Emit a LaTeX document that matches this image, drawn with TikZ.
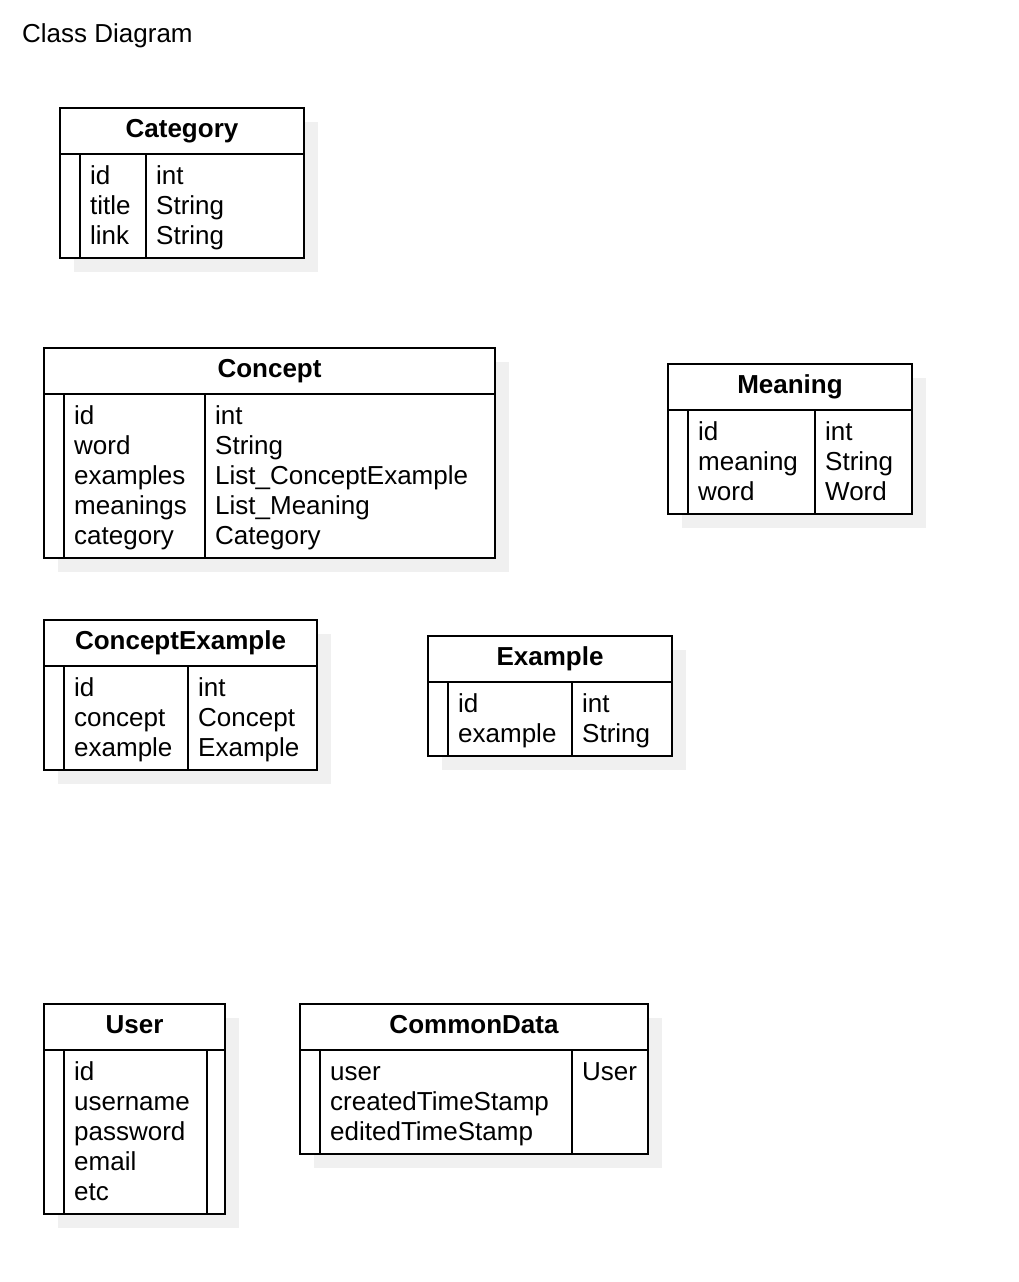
\documentclass[tikz,border=0pt]{standalone}
\usepackage{fontspec}
\setmainfont{Liberation Sans}
\definecolor{shadowcol}{RGB}{240,240,240}
\tikzset{
  txt/.style={inner sep=0pt, anchor=base west, font=\fontsize{26}{30}\selectfont},
  ttl/.style={inner sep=0pt, anchor=base, font=\fontsize{26}{30}\selectfont\bfseries},
  frame/.style={line width=1.8pt, draw=black},
}
% #1 id, #2 x1, #3 y1, #4 x2, #5 y2, #6 stripe x, #7 divider x, #8 title
\newcommand\umlbox[8]{%
  \fill[shadowcol] (#2+14,#3+14) rectangle (#4+14,#5+14);
  \draw[frame, fill=white] (#2,#3) rectangle (#4,#5);
  \draw[frame] (#2,#3+46) -- (#4,#3+46);
  \draw[frame] (#6,#3+46) -- (#6,#5);
  \draw[frame] (#7,#3+46) -- (#7,#5);
  \node[ttl] (#1-title) at ({(#2+#4)/2},#3+29) {#8};
}
% #1 id prefix, #2 x, #3 first baseline y, #4 list
\newcommand\umlrows[4]{%
  \foreach \t [count=\i from 0] in {#4} {
    \node[txt] (#1\i) at (#2,{#3-1+30*\i}) {\t};
  }
}
\begin{document}
\begin{tikzpicture}[x=1pt,y=-1pt]
\useasboundingbox (0,0) rectangle (1018,1282);

\node[txt] (heading) at (22,42) {Class Diagram};

% Category
\umlbox{cat}{60}{108}{304}{258}{80}{146}{Category}
\umlrows{cat-n}{90}{185}{id,title,link}
\umlrows{cat-t}{156}{185}{int,String,String}

% Concept
\umlbox{con}{44}{348}{495}{558}{64}{205}{Concept}
\umlrows{con-n}{74}{425}{id,word,examples,meanings,category}
\umlrows{con-t}{215}{425}{int,String,List\_ConceptExample,List\_Meaning,Category}

% Meaning
\umlbox{mea}{668}{364}{912}{514}{688}{815}{Meaning}
\umlrows{mea-n}{698}{441}{id,meaning,word}
\umlrows{mea-t}{825}{441}{int,String,Word}

% ConceptExample
\umlbox{cex}{44}{620}{317}{770}{64}{188}{ConceptExample}
\umlrows{cex-n}{74}{697}{id,concept,example}
\umlrows{cex-t}{198}{697}{int,Concept,Example}

% Example
\umlbox{exa}{428}{636}{672}{756}{448}{572}{Example}
\umlrows{exa-n}{458}{713}{id,example}
\umlrows{exa-t}{582}{713}{int,String}

% User
\umlbox{usr}{44}{1004}{225}{1214}{64}{207}{User}
\umlrows{usr-n}{74}{1081}{id,username,password,email,etc}

% CommonData
\umlbox{cmd}{300}{1004}{648}{1154}{320}{572}{CommonData}
\umlrows{cmd-n}{330}{1081}{user,createdTimeStamp,editedTimeStamp}
\umlrows{cmd-t}{582}{1081}{User}
\end{tikzpicture}
\end{document}
